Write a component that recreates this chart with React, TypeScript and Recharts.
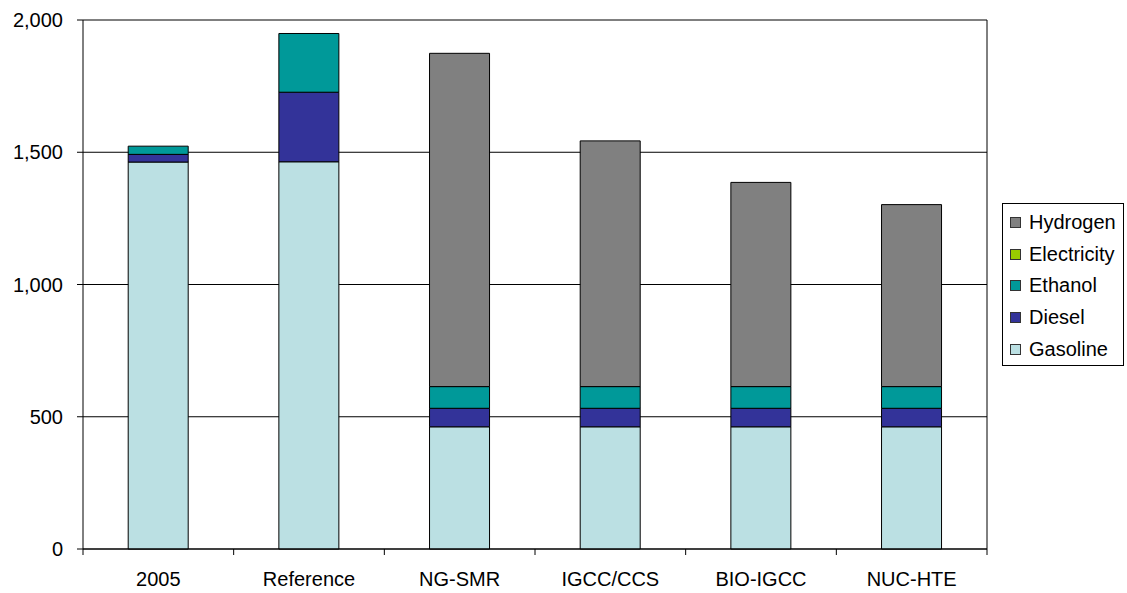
import React from "react";
import { BarChart, Bar, XAxis, YAxis, CartesianGrid } from "recharts";

// scenario categories along the x axis
const scenarios = ["2005", "Reference", "NG-SMR", "IGCC/CCS", "BIO-IGCC", "NUC-HTE"];

// stacked values per fuel
const gasoline = [1463, 1464, 462, 462, 462, 462];
const diesel = [29, 263, 70, 70, 70, 70];
const ethanol = [31, 222, 82, 82, 82, 82];
const electricity = [0, 0, 0, 0, 0, 0];
const hydrogen = [0, 0, 1260, 929, 772, 688];

const yTicks = [0, 500, 1000, 1500, 2000];

const series = [
  { key: "gasoline", name: "Gasoline", color: "#BBE0E3" },
  { key: "diesel", name: "Diesel", color: "#333399" },
  { key: "ethanol", name: "Ethanol", color: "#009999" },
  { key: "electricity", name: "Electricity", color: "#99CC00" },
  { key: "hydrogen", name: "Hydrogen", color: "#808080" },
];

const data = scenarios.map((name, i) => ({
  name,
  gasoline: gasoline[i],
  diesel: diesel[i],
  ethanol: ethanol[i],
  electricity: electricity[i],
  hydrogen: hydrogen[i],
}));

const W = 1127;
const H = 593;
const LEFT = 83;
const RIGHT = 140;
const BOTTOM = 44;
const TOP = 20;
const band = (W - LEFT - RIGHT) / scenarios.length;
const font = "'Liberation Sans', Arial, sans-serif";

const XTick = (props: any) => {
  const { x, payload, index } = props;
  const axisY = H - BOTTOM;
  const left = x - band / 2;
  return (
    <g>
      <line x1={left} x2={left} y1={axisY} y2={axisY + 6} stroke="#000" />
      {index === scenarios.length - 1 && (
        <line x1={x + band / 2} x2={x + band / 2} y1={axisY} y2={axisY + 6} stroke="#000" />
      )}
      <text x={x} y={axisY + 37} textAnchor="middle" fontSize={20} fill="#000" fontFamily={font}>
        {payload.value}
      </text>
    </g>
  );
};

// legend box drawn beside the plot, top entry is the top of the stack
const LegendBox = () => (
  <div
    style={{
      position: "absolute",
      left: 1002,
      top: 203,
      border: "1px solid #000",
      background: "#fff",
      width: 120,
      paddingTop: 3,
      fontFamily: font,
    }}
  >
    {[...series].reverse().map((s) => (
      <div key={s.key} style={{ height: 31.6, display: "flex", alignItems: "center" }}>
        <div
          style={{
            width: 9,
            height: 9,
            marginLeft: 7,
            marginRight: 8,
            background: s.color,
            border: "1px solid #333",
          }}
        />
        <span style={{ fontSize: 20, color: "#000" }}>{s.name}</span>
      </div>
    ))}
  </div>
);

export default function App() {
  return (
    <div style={{ position: "absolute", left: 0, top: 0, width: W, height: H, background: "#fff" }}>
      <BarChart
        width={W}
        height={H}
        data={data}
        margin={{ top: TOP, right: RIGHT - 1, bottom: 0, left: 0 }}
        barCategoryGap="30%"
      >
        <CartesianGrid vertical={false} stroke="#000" strokeWidth={1} />
        <XAxis
          dataKey="name"
          height={BOTTOM}
          axisLine={{ stroke: "#000" }}
          tickLine={false}
          tick={<XTick />}
          interval={0}
        />
        <YAxis
          width={LEFT}
          domain={[0, 2000]}
          ticks={yTicks}
          axisLine={{ stroke: "#000" }}
          tickLine={{ stroke: "#000" }}
          tickSize={6}
          tickMargin={14}
          tickFormatter={(v: number) => v.toLocaleString("en-US")}
          tick={{ fill: "#000", fontSize: 20, fontFamily: font }}
        />
        <YAxis
          yAxisId="frame"
          orientation="right"
          width={1}
          domain={[0, 2000]}
          ticks={yTicks}
          tick={false}
          tickLine={false}
          axisLine={{ stroke: "#000" }}
        />
        {series.map((s) => (
          <Bar
            key={s.key}
            dataKey={s.key}
            name={s.name}
            stackId="fuel"
            fill={s.color}
            stroke="#000"
            strokeWidth={1}
            isAnimationActive={false}
          />
        ))}
      </BarChart>
      <LegendBox />
    </div>
  );
}
